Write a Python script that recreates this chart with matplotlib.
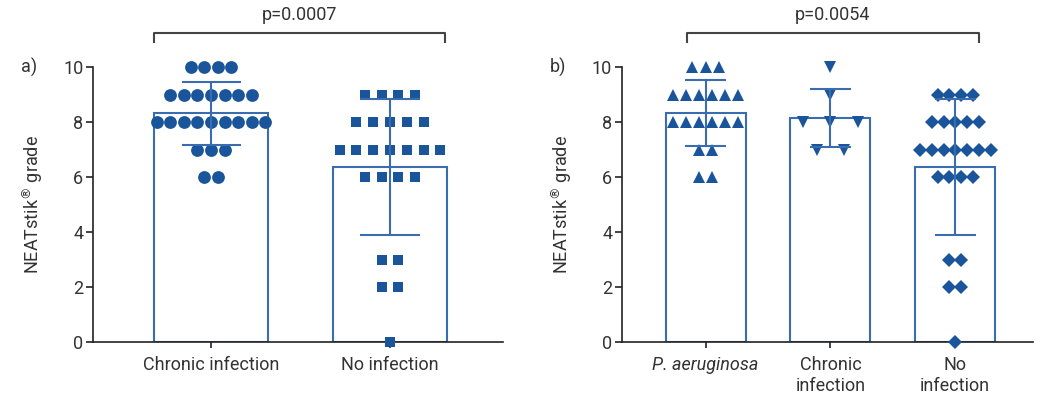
import numpy as np
import matplotlib.pyplot as plt

plt.rcParams['font.family'] = ['Roboto', 'DejaVu Sans']
plt.rcParams['text.color'] = '#333333'
plt.rcParams['axes.labelcolor'] = '#333333'
plt.rcParams['xtick.color'] = '#222222'
plt.rcParams['ytick.color'] = '#222222'
plt.rcParams['xtick.labelcolor'] = '#333333'
plt.rcParams['ytick.labelcolor'] = '#333333'

# NEATstik grades per patient
a_chronic = [10]*4 + [9]*7 + [8]*9 + [7]*3 + [6]*2
a_none = [9]*4 + [8]*5 + [7]*7 + [6]*4 + [3]*2 + [2]*2 + [0]
b_pa = [10]*3 + [9]*6 + [8]*6 + [7]*2 + [6]*2
b_chronic = [10] + [9] + [8]*3 + [7]*2
b_none = [9]*4 + [8]*5 + [7]*7 + [6]*4 + [3]*2 + [2]*2 + [0]

a_labels = ['Chronic infection', 'No infection']
b_labels = ['P. aeruginosa', 'Chronic\ninfection', 'No\ninfection']
a_p = 'p=0.0007'
b_p = 'p=0.0054'

dot_col = '#1a549a'
bar_col = '#3a6db0'
axis_col = '#222222'


def dots(ax, x, vals, marker, ms, step):
    vals = np.array(vals)
    for v in np.unique(vals):
        n = np.sum(vals == v)
        xs = x + (np.arange(n) - (n - 1) / 2) * step
        ax.plot(xs, [v]*n, linestyle='none', marker=marker, ms=ms,
                color=dot_col, mec=dot_col, mew=0, clip_on=False, zorder=3)


def panel(ax, groups, labels, markers, sizes, steps, xlim, pval, bracket, tag):
    for i, vals in enumerate(groups):
        m = np.mean(vals)
        sd = np.std(vals, ddof=1)
        ax.bar(i, m, width=0.64, color='white', edgecolor=bar_col, lw=1.5, zorder=1)
        dots(ax, i, vals, markers[i], sizes[i], steps[i])
        ax.vlines(i, m - sd, m + sd, color=bar_col, lw=1.5, zorder=4)
        ax.hlines([m - sd, m + sd], i - 0.165, i + 0.165, color=bar_col, lw=1.5, zorder=4)
    ax.set_xlim(*xlim)
    ax.set_ylim(0, 10)
    ax.set_yticks([0, 2, 4, 6, 8, 10])
    ax.set_xticks(range(len(groups)))
    ax.set_xticklabels(labels, fontsize=13, linespacing=1.25)
    ax.tick_params(axis='y', labelsize=13, length=5, width=1.2, pad=2)
    ax.tick_params(axis='x', length=4, width=1.2, pad=6)
    for s in ['top', 'right']:
        ax.spines[s].set_visible(False)
    for s in ['left', 'bottom']:
        ax.spines[s].set_color(axis_col)
        ax.spines[s].set_linewidth(1.2)
    ax.set_ylabel(r'NEATstik$^{\circledR}$ grade', fontsize=13, labelpad=13)
    # significance bracket
    x0, x1 = bracket
    ax.plot([x0, x0, x1, x1], [10.9, 11.25, 11.25, 10.9], color='#444444',
            lw=1.5, clip_on=False)
    ax.text((x0 + x1) / 2, 11.55, pval, ha='center', va='bottom', fontsize=13)
    ax.text(-0.175, 1.0, tag, transform=ax.transAxes, ha='left', va='center', fontsize=13)


fig = plt.figure(figsize=(10.4, 4), dpi=100)
ax1 = fig.add_axes([0.0894, 0.145, 0.394, 0.6875])
ax2 = fig.add_axes([0.598, 0.145, 0.395, 0.6875])

panel(ax1, [a_chronic, a_none], a_labels, ['o', 's'], [9.2, 7.6], [0.076, 0.094],
      (-0.66, 1.63), a_p, (-0.32, 1.31), 'a)')
panel(ax2, [b_pa, b_chronic, b_none], b_labels, ['^', 'v', 'D'], [9.0, 9.0, 7.2],
      [0.105, 0.22, 0.094], (-0.67, 2.62), b_p, (-0.15, 2.19), 'b)')
ax2.get_xticklabels()[0].set_style('italic')

fig.savefig('out.png', dpi=100)
